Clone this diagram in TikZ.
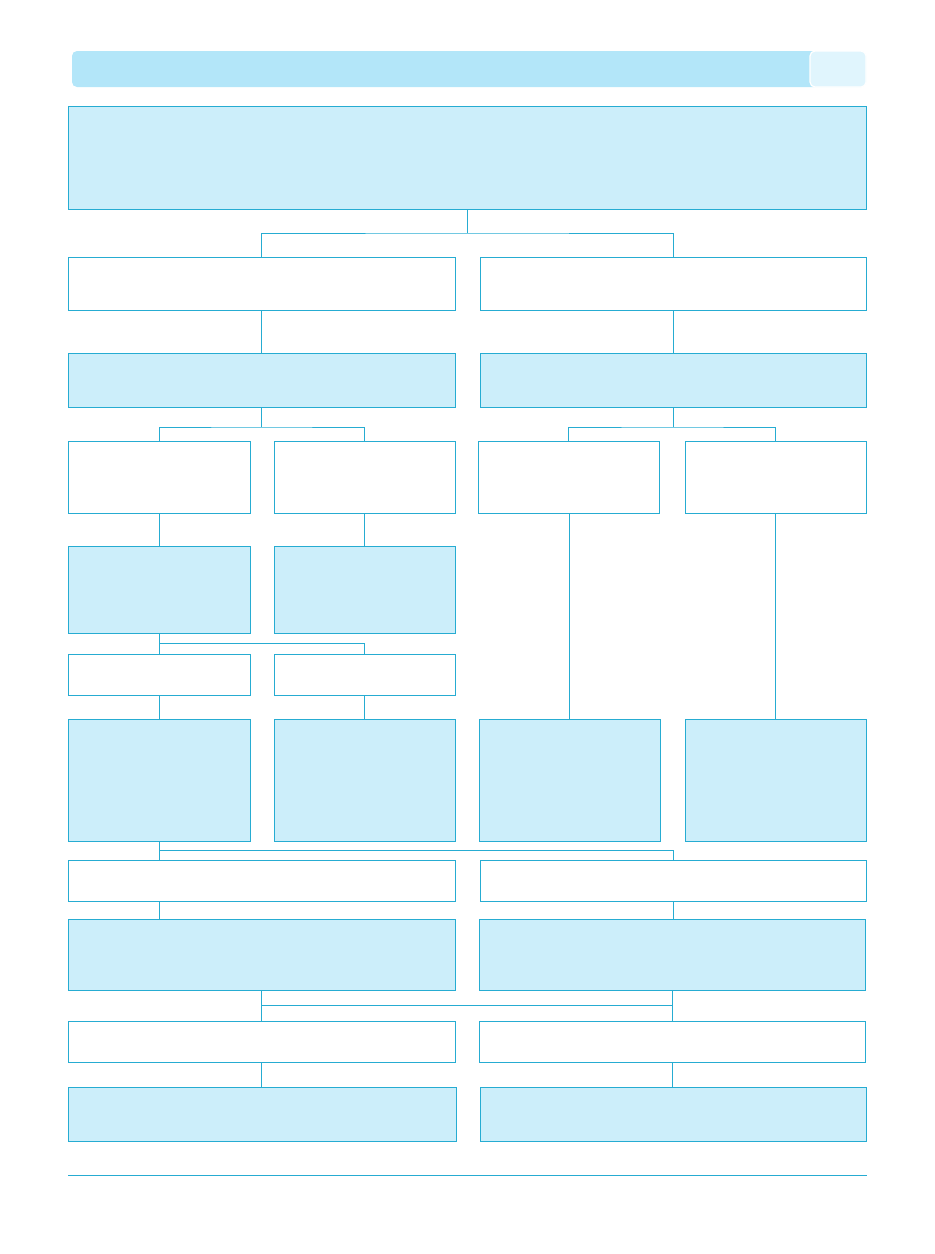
\documentclass[tikz,border=0pt]{standalone}
\definecolor{lc}{RGB}{38,172,210}
\definecolor{bf}{RGB}{204,238,250}
\definecolor{hd}{RGB}{179,230,249}
\definecolor{hd2}{RGB}{224,245,253}
\begin{document}
\begin{tikzpicture}[x=1pt,y=-1pt,
  base/.style={draw=lc,line width=0.8pt,inner sep=0pt,outer sep=0pt,rectangle},
  wbox/.style={base,fill=white},
  bbox/.style={base,fill=bf},
  conn/.style={draw=lc,line width=0.8pt}]
\useasboundingbox (0,0) rectangle (935,1254);
% header
\fill[hd,rounded corners=5pt] (72,51) rectangle (866,87);
\filldraw[fill=hd2,draw=white,line width=1.2pt,rounded corners=5pt] (810,51) rectangle (866,87);
% boxes
\node[bbox,minimum width=798pt,minimum height=103pt] (top) at (467,157.5) {};
\node[wbox,minimum width=387pt,minimum height=53pt] (r2l) at (261.5,283.5) {};
\node[wbox,minimum width=386pt,minimum height=53pt] (r2r) at (673,283.5) {};
\node[bbox,minimum width=387pt,minimum height=54pt] (r3l) at (261.5,380) {};
\node[bbox,minimum width=386pt,minimum height=54pt] (r3r) at (673,380) {};
\node[wbox,minimum width=182pt,minimum height=72pt] (r4a) at (159,477) {};
\node[wbox,minimum width=181pt,minimum height=72pt] (r4b) at (364.5,477) {};
\node[wbox,minimum width=181pt,minimum height=72pt] (r4c) at (568.5,477) {};
\node[wbox,minimum width=181pt,minimum height=72pt] (r4d) at (775.5,477) {};
\node[bbox,minimum width=182pt,minimum height=87pt] (r5a) at (159,589.5) {};
\node[bbox,minimum width=181pt,minimum height=87pt] (r5b) at (364.5,589.5) {};
\node[wbox,minimum width=182pt,minimum height=41pt] (r6a) at (159,674.5) {};
\node[wbox,minimum width=181pt,minimum height=41pt] (r6b) at (364.5,674.5) {};
\node[bbox,minimum width=182pt,minimum height=122pt] (r7a) at (159,780) {};
\node[bbox,minimum width=181pt,minimum height=122pt] (r7b) at (364.5,780) {};
\node[bbox,minimum width=181pt,minimum height=122pt] (r7c) at (569.5,780) {};
\node[bbox,minimum width=181pt,minimum height=122pt] (r7d) at (775.5,780) {};
\node[wbox,minimum width=387pt,minimum height=41pt] (r8l) at (261.5,880.5) {};
\node[wbox,minimum width=386pt,minimum height=41pt] (r8r) at (673,880.5) {};
\node[bbox,minimum width=387pt,minimum height=71pt] (r9l) at (261.5,954.5) {};
\node[bbox,minimum width=386pt,minimum height=71pt] (r9r) at (672,954.5) {};
\node[wbox,minimum width=387pt,minimum height=41pt] (r10l) at (261.5,1041.5) {};
\node[wbox,minimum width=386pt,minimum height=41pt] (r10r) at (672,1041.5) {};
\node[bbox,minimum width=388pt,minimum height=54pt] (r11l) at (262,1114) {};
\node[bbox,minimum width=386pt,minimum height=54pt] (r11r) at (673,1114) {};
% junctions
\coordinate (j1) at (467,233);
\coordinate (j2) at (261.5,427);
\coordinate (j3) at (673,427);
\coordinate (j4) at (159,643);
\coordinate (j5) at (159,850);
\coordinate (j6) at (261.5,1005);
% connectors
\draw[conn] (top.south) -- (j1);
\draw[conn] (r2l.north) |- (j1) -| (r2r.north);
\draw[conn] (r2l) -- (r3l);
\draw[conn] (r2r) -- (r3r);
\draw[conn] (r3l.south) -- (j2);
\draw[conn] (r4a.north) |- (j2) -| (r4b.north);
\draw[conn] (r3r.south) -- (j3);
\draw[conn] (r4c.north) |- (j3) -| (r4d.north);
\draw[conn] (r4a) -- (r5a);
\draw[conn] (r4b) -- (r5b);
\draw[conn] (r5a.south) -- (r6a.north);
\draw[conn] (j4) -| (r6b.north);
\draw[conn] (r6a) -- (r7a);
\draw[conn] (r6b) -- (r7b);
\draw[conn] (r4c.south -| r7c) -- (r7c.north);
\draw[conn] (r4d) -- (r7d);
\draw[conn] (r7a.south) -- (r8l.north -| r7a.south);
\draw[conn] (j5) -| (r8r.north);
\draw[conn] (r8l.south -| r7a.south) -- (r9l.north -| r7a.south);
\draw[conn] (r8r) -- (r9r.north -| r8r);
\draw[conn] (r9l) -- (r10l);
\draw[conn] (r9r) -- (r10r);
\draw[conn] (j6) -- (j6 -| r9r);
\draw[conn] (r10l) -- (r11l.north -| r10l);
\draw[conn] (r10r) -- (r11r.north -| r10r);
% bottom rule
\coordinate (b1) at (68,1175);
\coordinate (b2) at (867,1175);
\draw[conn] (b1) -- (b2);
\end{tikzpicture}
\end{document}
